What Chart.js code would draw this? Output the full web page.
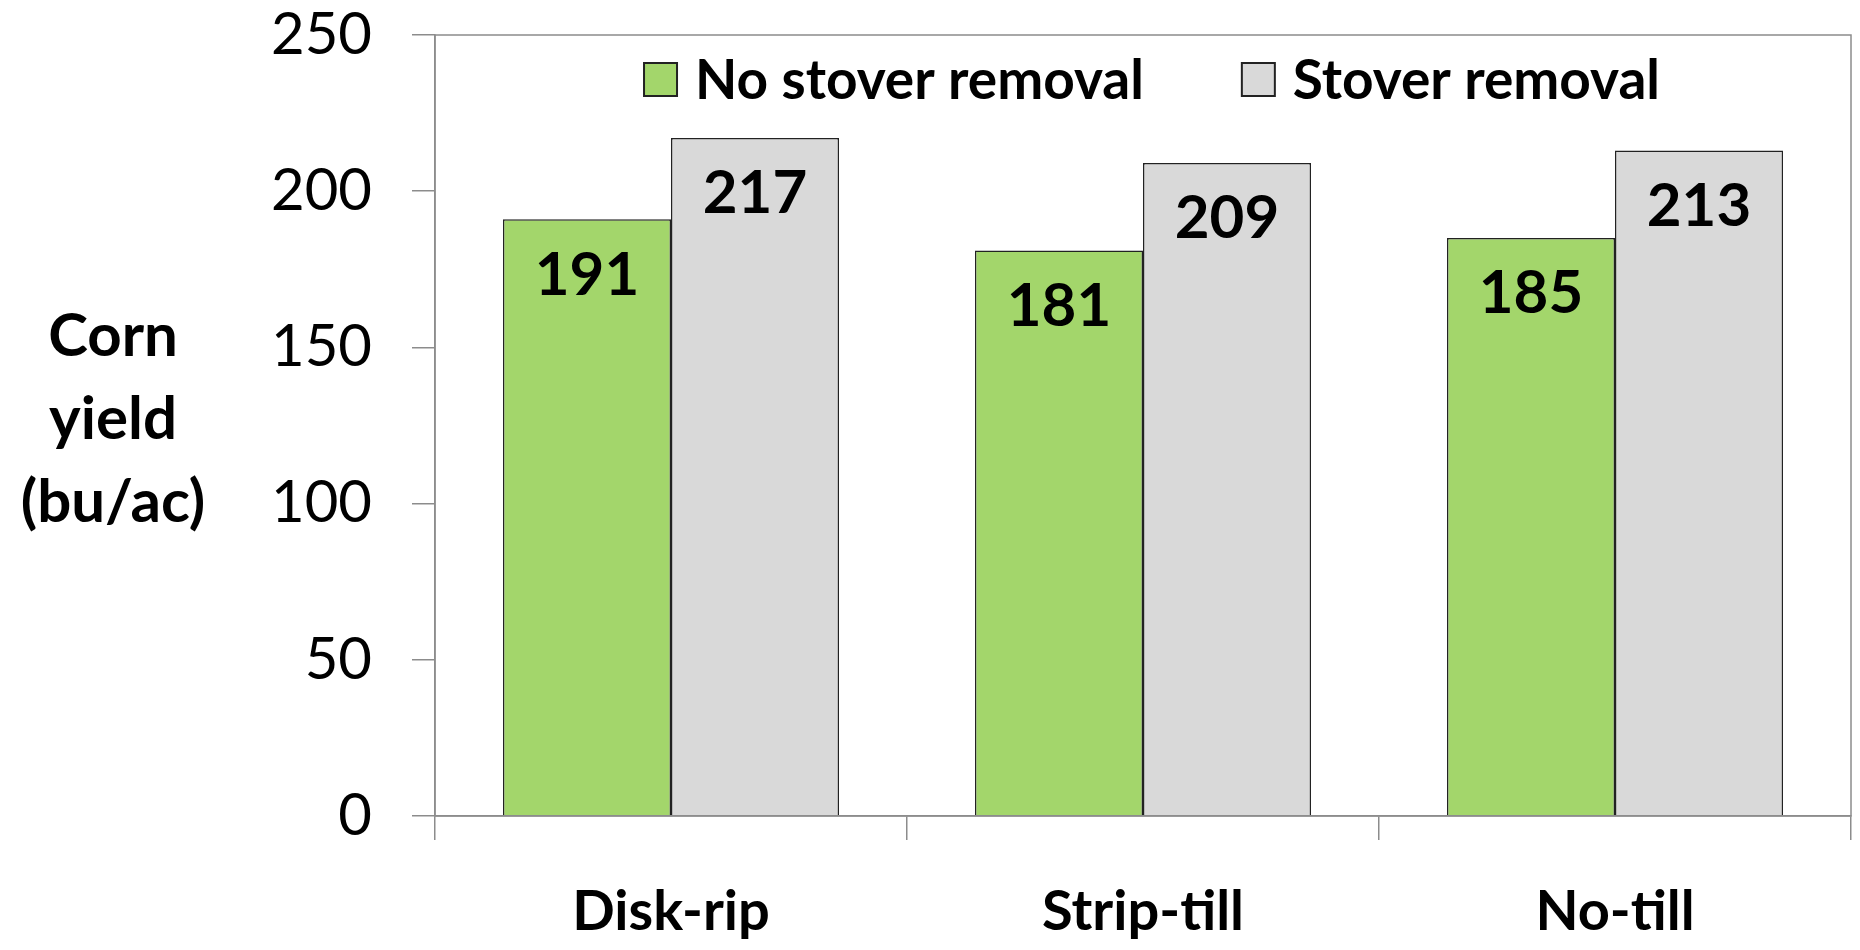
<!DOCTYPE html>
<html>
<head>
<meta charset="utf-8">
<script src="https://cdn.jsdelivr.net/npm/chart.js@4/dist/chart.umd.min.js"></script>
<style>
  html, body { margin: 0; padding: 0; background: #fff; }
  #wrap { width: 1860px; height: 950px; }
</style>
</head>
<body>
<div id="wrap"><canvas id="yield-chart" width="1860" height="950"></canvas></div>
<script>
const categories = ["Disk-rip", "Strip-till", "No-till"];
const noRemoval = [191, 181, 185];
const removal = [217, 209, 213];
const seriesNames = ["No stover removal", "Stover removal"];
const yTitle = ["Corn", "yield", "(bu/ac)"];
const yMin = 0, yMax = 250, yStep = 50;

const FONT = "Lato, 'Open Sans', sans-serif";
const AXIS_GRAY = "#8c8c8c";

// plot frame (top + right edges)
const frame = {
  id: "frame",
  afterDatasetsDraw(chart) {
    const a = chart.chartArea, ctx = chart.ctx;
    ctx.save();
    ctx.strokeStyle = AXIS_GRAY;
    ctx.lineWidth = 1.5;
    ctx.strokeRect(a.left, a.top, a.right - a.left, a.bottom - a.top);
    ctx.restore();
  },
};

// value labels inside the top of each bar
const barValues = {
  id: "barValues",
  afterDatasetsDraw(chart) {
    const ctx = chart.ctx;
    ctx.save();
    ctx.font = "bold 60px " + FONT;
    ctx.fillStyle = "#000";
    ctx.textAlign = "center";
    ctx.textBaseline = "middle";
    chart.data.datasets.forEach((ds, i) => {
      chart.getDatasetMeta(i).data.forEach((bar, j) => {
        ctx.fillText(String(ds.data[j]), bar.x, bar.y + 56);
      });
    });
    ctx.restore();
  },
};

// horizontal, three-line y axis title
const sideTitle = {
  id: "sideTitle",
  afterDraw(chart) {
    const a = chart.chartArea, ctx = chart.ctx;
    const mid = (a.top + a.bottom) / 2 + 13;
    ctx.save();
    ctx.font = "bold 60px " + FONT;
    ctx.fillStyle = "#000";
    ctx.textAlign = "center";
    ctx.textBaseline = "alphabetic";
    yTitle.forEach((line, i) => {
      ctx.fillText(line, 113, mid + (i - 1) * 83);
    });
    ctx.restore();
  },
};

// legend drawn inside the plot area
const innerLegend = {
  id: "innerLegend",
  afterDraw(chart) {
    const a = chart.chartArea, ctx = chart.ctx;
    const box = 33, gapText = 18, gapItem = 98;
    ctx.save();
    ctx.font = "bold 55px " + FONT;
    const items = chart.data.datasets.map((ds) => ({
      ds, w: box + gapText + ctx.measureText(ds.label).width,
    }));
    const total = items.reduce((s, it) => s + it.w, 0) + gapItem * (items.length - 1);
    let x = (a.left + a.right) / 2 + 9 - total / 2;
    const top = a.top + 28;
    items.forEach((it) => {
      ctx.fillStyle = it.ds.backgroundColor;
      ctx.fillRect(x, top, box, box);
      ctx.strokeStyle = "#222";
      ctx.lineWidth = 2;
      ctx.strokeRect(x, top, box, box);
      ctx.fillStyle = "#000";
      ctx.textAlign = "left";
      ctx.textBaseline = "middle";
      ctx.fillText(it.ds.label, x + box + gapText, top + box / 2 + 2);
      x += it.w + gapItem;
    });
    ctx.restore();
  },
};

new Chart(document.getElementById("yield-chart"), {
  type: "bar",
  data: {
    labels: categories,
    datasets: [
      {
        label: seriesNames[0],
        data: noRemoval,
        backgroundColor: "#a3d66b",
        borderColor: "#222",
        borderWidth: 1.5,
      },
      {
        label: seriesNames[1],
        data: removal,
        backgroundColor: "#d9d9d9",
        borderColor: "#222",
        borderWidth: 1.5,
      },
    ],
  },
  options: {
    responsive: false,
    animation: false,
    layout: { padding: { top: 35, right: 9, left: 0, bottom: 0 } },
    datasets: { bar: { categoryPercentage: 0.712, barPercentage: 1 } },
    plugins: {
      legend: { display: false },
      tooltip: { enabled: false },
    },
    scales: {
      x: {
        grid: {
          offset: true,
          drawOnChartArea: false,
          tickLength: 24,
          color: AXIS_GRAY,
          lineWidth: 1.5,
        },
        border: { color: AXIS_GRAY, width: 1.5 },
        ticks: {
          color: "#000",
          font: { family: FONT, size: 56, weight: "bold" },
          padding: 38,
        },
        afterFit(scale) {
          scale.height = 134;
          scale.paddingLeft = 0;
          scale.paddingRight = 0;
        },
      },
      y: {
        min: yMin,
        max: yMax,
        grid: {
          drawOnChartArea: false,
          tickLength: 23,
          color: AXIS_GRAY,
          lineWidth: 1.5,
        },
        border: { color: AXIS_GRAY, width: 1.5 },
        ticks: {
          stepSize: yStep,
          color: "#000",
          font: { family: FONT, size: 58 },
          padding: 40,
        },
        afterFit(scale) {
          scale.width = 435;
          scale.paddingTop = 0;
          scale.paddingBottom = 0;
        },
      },
    },
  },
  plugins: [frame, barValues, sideTitle, innerLegend],
});
</script>
</body>
</html>
